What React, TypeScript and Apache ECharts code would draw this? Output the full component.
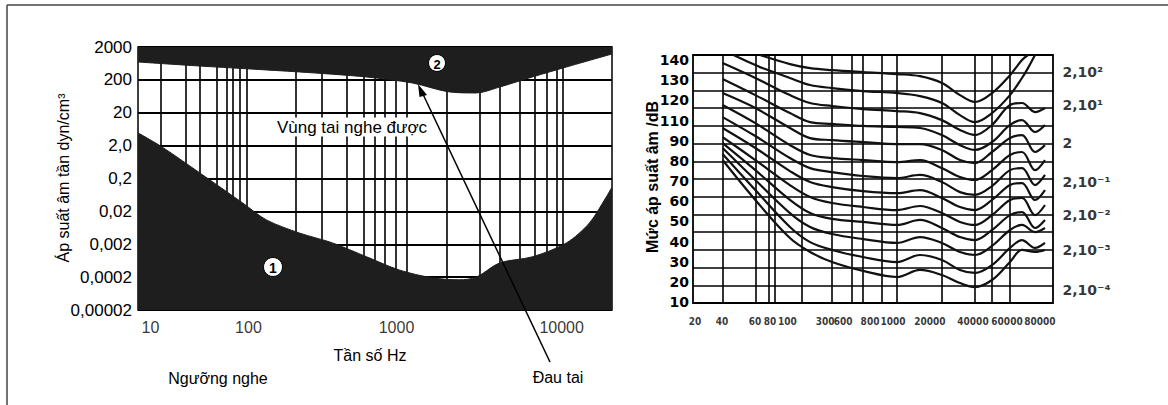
import React, { useEffect, useRef } from "react";
import * as echarts from "echarts";

// ---------- Left chart: hearing range (log-log) ----------
const leftYLabels = ["0,00002", "0,0002", "0,002", "0,02", "0,2", "2,0", "20", "200", "2000"];
const leftXLabelText = ["10", "100", "1000", "10000"];
const leftXLabelAt = [24, 100, 865, 9600];
const leftVGrid = [28, 40, 49, 63, 73, 79, 88, 97, 200, 290, 420, 540, 630, 730, 860, 1000, 1800, 2900, 3900, 5200, 6500, 7700, 8900, 9700];
const thresholdFreq = [20, 28.5, 49, 92, 130, 210, 340, 560, 900, 1460, 2160, 2770, 3880, 6270, 10300, 14400, 18400, 20000];
const thresholdPressure = [4.9, 1.8, 0.3, 0.036, 0.011, 0.0044, 0.0022, 0.00083, 0.00033, 0.00019, 0.000166, 0.0002, 0.00054, 0.00083, 0.0022, 0.0089, 0.055, 0.11];
const painFreq = [20, 49, 210, 558, 1090, 1870, 2770, 3880, 6270, 10300, 20000];
const painPressure = [700, 528, 348, 245, 161, 86, 80, 121, 245, 493, 1225];

// ---------- Right chart: equal-loudness contours ----------
const rightYLabels = ["10", "20", "30", "40", "50", "60", "70", "80", "90", "110", "120", "130", "140"];
const rightXLabelText = ["20", "40", "60", "80", "100", "300", "600", "800", "1000", "20000", "40000", "60000", "80000"];
const rightXLabelAt = [20.8, 34.6, 64.6, 85.6, 119, 243, 341, 568, 877, 1765, 3980, 7570, 14100];
const rightVGrid = [35, 65, 83, 94, 157, 277, 404, 498, 713, 946, 2213, 4131, 5700, 8010];
const isoFreq = [35, 43, 65, 71, 125, 183, 277, 498, 946, 1460, 2210, 3110, 4130, 5700, 8010, 10050, 11250, 12850, 15520];
const iso0 = [null, null, null, 132.5, 128.0, 126.0, 125.0, 124.0, 123.0, 122.0, 118.6, 112.6, 109.2, 113.6, 122.5, 130.0, 132.5, null, null];
const iso1 = [null, 132.5, 127.5, 126.5, 121.1, 117.6, 116.1, 114.6, 113.6, 112.1, 108.7, 102.7, 99.2, 103.7, 112.6, 121.1, 126.0, 132.5, null];
const iso2 = [128.5, null, 121.1, null, 112.6, 108.7, 107.2, 105.7, 104.7, 103.7, 100.2, 95.3, 92.8, 97.8, 107.7, 108.7, null, 104.2, 106.2];
const iso3 = [120.6, null, 112.6, null, 103.7, 99.2, 98.3, 97.3, 96.8, 96.3, 92.8, 87.8, 85.4, 89.3, 97.8, 100.2, null, 94.3, 97.8];
const iso4 = [113.6, null, 106.2, null, 96.3, 91.3, 90.3, 89.3, 88.3, 88.3, 85.4, 80.4, 78.9, 84.4, 91.3, 92.8, null, 84.4, 87.8];
const iso5 = [107.7, null, 98.7, null, 87.8, 82.9, 81.4, 80.4, 79.4, 80.4, 76.4, 72.0, 70.5, 75.4, 82.9, 84.4, null, 75.4, 80.4];
const iso6 = [101.7, null, 92.3, null, 81.4, 76.4, 74.4, 72.5, 71.5, 73.0, 69.5, 64.5, 63.1, 67.5, 75.4, 76.4, null, 68.0, 73.0];
const iso7 = [96.3, null, 86.4, null, 74.9, 69.5, 67.0, 65.0, 64.0, 65.5, 61.6, 57.1, 55.6, 60.6, 68.0, 69.0, null, 60.6, 65.5];
const iso8 = [91.8, null, 80.4, null, 68.0, 62.1, 59.1, 57.1, 55.6, 57.6, 54.1, 49.7, 48.2, 53.1, 60.6, 61.6, null, 53.1, 58.1];
const iso9 = [88.8, null, 75.4, null, 60.6, 54.1, 51.2, 49.7, 48.2, 50.7, 46.7, 42.2, 40.7, 45.7, 53.1, 54.6, null, 46.7, 50.7];
const iso10 = [86.4, null, 70.5, null, 54.1, 47.2, 43.7, 41.2, 39.3, 42.2, 39.3, 34.8, 33.3, 37.8, 45.7, 48.2, null, 44.7, 46.7];
const iso11 = [83.4, null, 65.5, null, 47.2, 39.7, 35.8, 32.3, 29.8, 33.3, 30.8, 25.9, 24.4, 28.3, 36.8, 40.7, null, 36.8, 39.3];
const iso12 = [80.4, null, 60.6, null, 41.7, 34.8, 29.8, 25.4, 22.4, 25.9, 23.4, 19.4, 17.4, 20.9, 29.8, 35.8, null, 34.8, 35.8];
const isoCurves = [iso0, iso1, iso2, iso3, iso4, iso5, iso6, iso7, iso8, iso9, iso10, iso11, iso12];
const pressureLabels = ["2,10²", "2,10¹", "2", "2,10⁻¹", "2,10⁻²", "2,10⁻³", "2,10⁻⁴"];
const pressureLabelDb = [124.0, 107.7, 88.8, 69.5, 53.1, 35.8, 16.0];

const SANS = '"Liberation Sans", Arial, Helvetica, sans-serif';
const BOLD = '"DejaVu Sans", "Liberation Sans", sans-serif';
const NARROW = '"Liberation Sans Narrow", "DejaVu Sans Condensed", "Liberation Sans", sans-serif';
const DARK = "#1e1e1e";
const INK = "#000";

export default function App() {
  const ref = useRef<HTMLDivElement>(null);

  useEffect(() => {
    if (!ref.current) return;
    const chart = echarts.init(ref.current, null, { renderer: "svg" });

    const isoSeries = isoCurves.map((c) => ({
      type: "line",
      xAxisIndex: 1,
      yAxisIndex: 3,
      data: isoFreq.map((f, i) => [f, c[i]]).filter((p) => p[1] != null),
      smooth: 0.35,
      showSymbol: false,
      symbol: "none",
      silent: true,
      lineStyle: { color: "#111", width: 2.2 },
      z: 3,
    }));

    const option: any = {
      animation: false,
      backgroundColor: "#fff",
      grid: [
        { left: 138, top: 47, width: 474, height: 263, show: true, borderColor: "#000", borderWidth: 1.5, backgroundColor: "transparent" },
        { left: 693, top: 55, width: 360, height: 248, show: true, borderColor: "#000", borderWidth: 1.8, backgroundColor: "transparent" },
        { left: 693, top: 60, width: 360, height: 242 },
      ],
      xAxis: [
        { type: "log", gridIndex: 0, min: 20, max: 20000, show: false },
        { type: "log", gridIndex: 1, min: 20, max: 18060, show: false },
        { type: "value", gridIndex: 2, min: 0, max: 1, show: false },
      ],
      yAxis: [
        { type: "log", gridIndex: 0, min: 2e-5, max: 2000, show: false },
        {
          type: "category",
          gridIndex: 0,
          position: "left",
          data: leftYLabels,
          boundaryGap: false,
          axisLine: { show: false },
          axisTick: { show: false },
          axisLabel: { interval: 0, fontSize: 17, color: INK, margin: 6, fontFamily: SANS },
          splitLine: { show: true, interval: 0, lineStyle: { color: "#000", width: 2 } },
        },
        {
          type: "value",
          gridIndex: 1,
          position: "left",
          min: 0,
          max: 14,
          interval: 1,
          axisLine: { show: false },
          axisTick: { show: false },
          axisLabel: { show: false },
          splitLine: { show: true, lineStyle: { color: "#000", width: 1.7 } },
        },
        { type: "value", gridIndex: 1, min: 9.5, max: 132.5, show: false },
        {
          type: "value",
          gridIndex: 2,
          position: "left",
          min: 10,
          max: 130,
          interval: 10,
          axisLine: { show: false },
          axisTick: { show: false },
          splitLine: { show: false },
          axisLabel: {
            margin: 4,
            fontSize: 14,
            fontWeight: "bold",
            color: INK,
            fontFamily: BOLD,
            formatter: (v: number) => rightYLabels[Math.round((v - 10) / 10)] ?? "",
          },
        },
      ],
      series: [
        {
          type: "line",
          xAxisIndex: 0,
          yAxisIndex: 0,
          data: [],
          silent: true,
          markLine: {
            z: 1,
            silent: true,
            symbol: "none",
            animation: false,
            label: { show: false },
            lineStyle: { color: "#000", width: 1.6, type: "solid" },
            data: leftVGrid.map((v) => ({ xAxis: v })),
          },
        },
        {
          type: "line",
          xAxisIndex: 1,
          yAxisIndex: 3,
          data: [],
          silent: true,
          markLine: {
            z: 1,
            silent: true,
            symbol: "none",
            animation: false,
            label: { show: false },
            lineStyle: { color: "#000", width: 1.6, type: "solid" },
            data: rightVGrid.map((v) => ({ xAxis: v })),
          },
        },
        {
          type: "line",
          xAxisIndex: 0,
          yAxisIndex: 0,
          data: thresholdFreq.map((f, i) => [f, thresholdPressure[i]]),
          smooth: 0.3,
          showSymbol: false,
          symbol: "none",
          silent: true,
          lineStyle: { width: 1, color: DARK },
          areaStyle: { color: DARK, opacity: 1, origin: "start" },
          z: 3,
        },
        {
          type: "line",
          xAxisIndex: 0,
          yAxisIndex: 0,
          data: painFreq.map((f, i) => [f, painPressure[i]]),
          smooth: 0.3,
          showSymbol: false,
          symbol: "none",
          silent: true,
          lineStyle: { width: 1, color: DARK },
          areaStyle: { color: DARK, opacity: 1, origin: "end" },
          z: 3,
        },
        {
          type: "scatter",
          xAxisIndex: 0,
          yAxisIndex: 0,
          clip: false,
          silent: true,
          symbolSize: 1,
          itemStyle: { color: "rgba(0,0,0,0)" },
          label: { show: true, position: "bottom", distance: 9, formatter: "{b}", fontSize: 16, color: INK, fontFamily: SANS },
          data: leftXLabelAt.map((f, i) => ({ name: leftXLabelText[i], value: [f, 2e-5] })),
          z: 5,
        },
        {
          type: "scatter",
          xAxisIndex: 1,
          yAxisIndex: 3,
          clip: false,
          silent: true,
          symbolSize: 1,
          itemStyle: { color: "rgba(0,0,0,0)" },
          label: { show: true, position: "bottom", distance: 13, formatter: "{b}", fontSize: 10, fontWeight: "bold", color: INK, fontFamily: NARROW },
          data: rightXLabelAt.map((f, i) => ({ name: rightXLabelText[i], value: [f, 9.5] })),
          z: 5,
        },
        {
          type: "scatter",
          xAxisIndex: 1,
          yAxisIndex: 3,
          clip: false,
          silent: true,
          symbolSize: 1,
          itemStyle: { color: "rgba(0,0,0,0)" },
          label: { show: true, position: "right", distance: 9, formatter: "{b}", fontSize: 14, fontWeight: "bold", color: INK, fontFamily: BOLD },
          data: pressureLabelDb.map((v, i) => ({ name: pressureLabels[i], value: [18060, v] })),
          z: 5,
        },
        ...isoSeries,
      ],
      graphic: [
        { type: "line", z: 20, shape: { x1: 7, y1: 5, x2: 1168, y2: 5 }, style: { stroke: "#444", lineWidth: 1.5 } },
        { type: "line", z: 20, shape: { x1: 7, y1: 5, x2: 7, y2: 405 }, style: { stroke: "#444", lineWidth: 1.5 } },
        {
          type: "text", z: 20, x: 63, y: 178, rotation: Math.PI / 2,
          style: { text: "Áp suất âm tần dyn/cm³", fontSize: 16, fontFamily: SANS, fill: INK, align: "center", verticalAlign: "middle" },
        },
        {
          type: "text", z: 20, x: 652, y: 177, rotation: Math.PI / 2,
          style: { text: "Mức áp suất âm /dB", fontSize: 16, fontWeight: "bold", fontFamily: SANS, fill: INK, align: "center", verticalAlign: "middle" },
        },
        {
          type: "text", z: 20, x: 352, y: 127,
          style: { text: "Vùng tai nghe được", fontSize: 17, fontFamily: SANS, fill: INK, align: "center", verticalAlign: "middle", backgroundColor: "#fff", padding: [1, 2] },
        },
        { type: "text", z: 20, x: 370, y: 355, style: { text: "Tần số Hz", fontSize: 16, fontFamily: SANS, fill: INK, align: "center", verticalAlign: "middle" } },
        { type: "text", z: 20, x: 218, y: 378, style: { text: "Ngưỡng nghe", fontSize: 16, fontFamily: SANS, fill: INK, align: "center", verticalAlign: "middle" } },
        { type: "text", z: 20, x: 558, y: 377, style: { text: "Đau tai", fontSize: 16, fontFamily: SANS, fill: INK, align: "center", verticalAlign: "middle" } },
        { type: "circle", z: 20, shape: { cx: 273, cy: 267, r: 9.5 }, style: { fill: "#fff", stroke: "#000", lineWidth: 1 } },
        { type: "text", z: 21, x: 273, y: 268, style: { text: "1", fontSize: 14, fontWeight: "bold", fontFamily: SANS, fill: "#000", align: "center", verticalAlign: "middle" } },
        { type: "circle", z: 20, shape: { cx: 437, cy: 63, r: 8.5 }, style: { fill: "#fff", stroke: "#000", lineWidth: 1 } },
        { type: "text", z: 21, x: 437, y: 64, style: { text: "2", fontSize: 13, fontWeight: "bold", fontFamily: SANS, fill: "#000", align: "center", verticalAlign: "middle" } },
        { type: "line", z: 20, shape: { x1: 550, y1: 362, x2: 421, y2: 90 }, style: { stroke: "#000", lineWidth: 1.5 } },
        { type: "polygon", z: 20, shape: { points: [[418, 84], [427, 95], [419.5, 97]] }, style: { fill: "#000" } },
      ],
    };

    chart.setOption(option);
    return () => chart.dispose();
  }, []);

  return (
    <div
      ref={ref}
      style={{ position: "fixed", left: 0, top: 0, width: 1168, height: 405, background: "#fff" }}
    />
  );
}
